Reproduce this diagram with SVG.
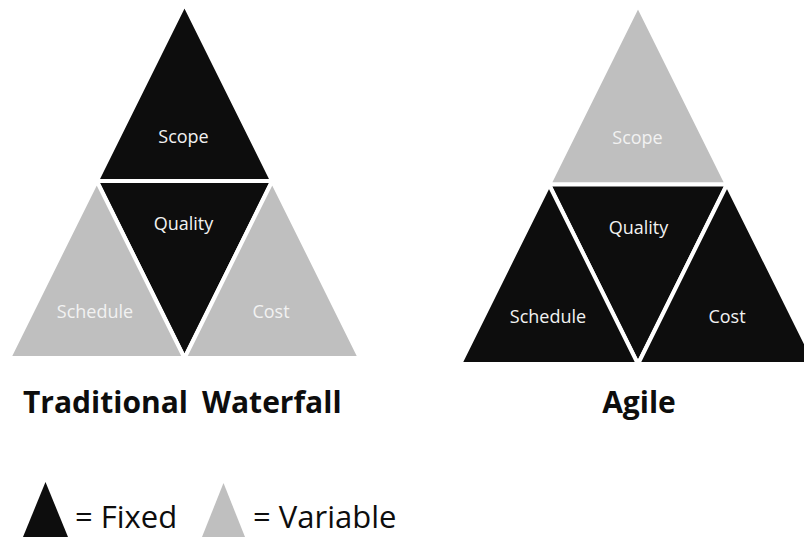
<svg xmlns="http://www.w3.org/2000/svg" width="804" height="537" viewBox="0 0 804 537">
<style>
.fixed{fill:#0d0d0d}
.var{fill:#bfbfbf}
.tri{stroke:#ffffff;stroke-width:4;stroke-linejoin:miter}
.lbl{font-family:"Open Sans","Noto Sans",sans-serif;font-size:18px;fill:#f2f2f2;text-anchor:middle}
.title{font-family:"Open Sans","Noto Sans",sans-serif;font-size:30px;font-weight:700;fill:#0d0d0d}
.leg{font-family:"Open Sans","Noto Sans",sans-serif;font-size:31px;fill:#0d0d0d}
</style>
<rect width="804" height="537" fill="#ffffff"/>
<g id="waterfall">
  <g id="wf-scope"><polygon class="tri fixed" points="184.5,4 96.75,181 272.25,181"/><text class="lbl" x="183.5" y="143">Scope</text></g>
  <g id="wf-quality"><polygon class="tri fixed" points="96.75,181 272.25,181 184.5,358"/><text class="lbl" x="183.5" y="230">Quality</text></g>
  <g id="wf-schedule"><polygon class="tri var" points="96.75,181 9,358 184.5,358"/><text class="lbl" x="95" y="318">Schedule</text></g>
  <g id="wf-cost"><polygon class="tri var" points="272.25,181 184.5,358 360,358"/><text class="lbl" x="271" y="318">Cost</text></g>
  <text id="wf-title" class="title" y="413"><tspan x="23">Traditional</tspan><tspan x="202">Waterfall</tspan></text>
</g>
<g id="agile">
  <g id="ag-scope"><polygon class="tri var" points="638,5 549,184.5 727,184.5"/><text class="lbl" x="637.5" y="144">Scope</text></g>
  <g id="ag-quality"><polygon class="tri fixed" points="549,184.5 727,184.5 638,364"/><text class="lbl" x="638.5" y="234">Quality</text></g>
  <g id="ag-schedule"><polygon class="tri fixed" points="549,184.5 460,364 638,364"/><text class="lbl" x="548" y="323">Schedule</text></g>
  <g id="ag-cost"><polygon class="tri fixed" points="727,184.5 638,364 816,364"/><text class="lbl" x="727" y="323">Cost</text></g>
  <text id="ag-title" class="title" x="639" y="413" text-anchor="middle">Agile</text>
</g>
<g id="legend">
  <g id="leg-fixed"><polygon class="fixed" points="45.5,482 23,537 68,537"/><text class="leg" x="75" y="528">= Fixed</text></g>
  <g id="leg-variable"><polygon class="var" points="223.5,483 202,537 245,537"/><text class="leg" x="253" y="528">= Variable</text></g>
</g>
<g id="connectors"/>
</svg>
